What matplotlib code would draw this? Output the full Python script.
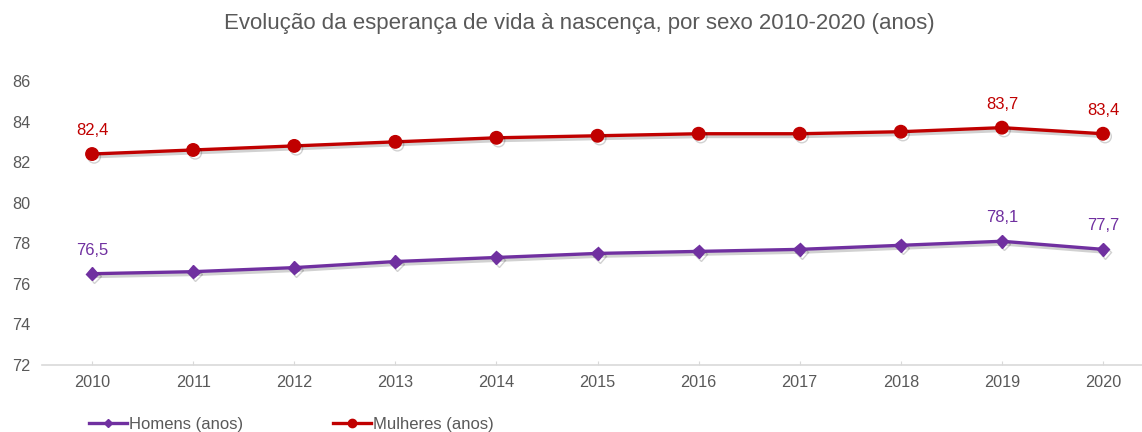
import matplotlib
matplotlib.use("Agg")
import matplotlib.pyplot as plt
import matplotlib.patheffects as pe
from matplotlib.lines import Line2D

years = ["2010", "2011", "2012", "2013", "2014", "2015", "2016", "2017", "2018", "2019", "2020"]
homens = [76.5, 76.6, 76.8, 77.1, 77.3, 77.5, 77.6, 77.7, 77.9, 78.1, 77.7]
mulheres = [82.4, 82.6, 82.8, 83.0, 83.2, 83.3, 83.4, 83.4, 83.5, 83.7, 83.4]
labeled_idx = [0, 9, 10]
title = "Evolução da esperança de vida à nascença, por sexo 2010-2020 (anos)"

plt.rcParams['font.family'] = ['Liberation Sans', 'DejaVu Sans']
W, H = 1142, 432
fig = plt.figure(figsize=(W / 100, H / 100), dpi=100)
left_px, right_px = 41.5, 1142
ax = fig.add_axes([left_px / W, (H - 365) / H, (right_px - left_px) / W, 284 / H])

purple = "#7030A0"
red = "#C00000"
gray = "#595959"
x = list(range(len(years)))

shadow = [pe.SimpleLineShadow(offset=(1.5, -2), shadow_color="black", alpha=0.18), pe.Normal()]
lh, = ax.plot(x, homens, color=purple, lw=2.4, marker="D", markersize=6.5,
              label="Homens (anos)", path_effects=shadow, zorder=3)
lm, = ax.plot(x, mulheres, color=red, lw=2.4, marker="o", markersize=9,
              label="Mulheres (anos)", path_effects=shadow, zorder=3)

for i in labeled_idx:
    ax.annotate(f"{homens[i]:.1f}".replace(".", ","), (x[i], homens[i]), xytext=(0, 17),
                textcoords="offset points", ha="center", va="center", color=purple, fontsize=12)
    ax.annotate(f"{mulheres[i]:.1f}".replace(".", ","), (x[i], mulheres[i]), xytext=(0, 17),
                textcoords="offset points", ha="center", va="center", color=red, fontsize=12)

ax.set_xlim(-0.5, (right_px - 92) / 101.1)
ax.set_ylim(72, 86)
ax.set_yticks(range(72, 87, 2))
ax.set_xticks(x)
ax.set_xticklabels(years)
for s in ["top", "right", "left"]:
    ax.spines[s].set_visible(False)
ax.spines["bottom"].set_color("#D9D9D9")
ax.spines["bottom"].set_linewidth(1.2)
ax.tick_params(axis="y", length=0, labelsize=11.7, labelcolor=gray)
ax.tick_params(axis="x", length=3, direction="in", color="#D9D9D9", labelsize=11.7, labelcolor=gray, pad=7)
for lbl in ax.get_yticklabels():
    lbl.set_horizontalalignment("left")
ax.yaxis.set_tick_params(pad=21.2)

fig.text(579.5 / W, (H - 23) / H, title, ha="center", va="center", fontsize=16, color=gray)

hh = Line2D([], [], color=purple, lw=2.4, marker="D", markersize=4)
hm = Line2D([], [], color=red, lw=2.4, marker="o", markersize=6)
fig.legend(handles=[hh, hm], labels=["Homens (anos)", "Mulheres (anos)"], loc="center left",
           bbox_to_anchor=(89 / W, (H - 424) / H),
           ncol=2, frameon=False, fontsize=12, handlelength=2.3, handletextpad=0.1,
           columnspacing=5.4, labelcolor=gray, borderpad=0, borderaxespad=0)
fig.savefig("out.png", dpi=100)
